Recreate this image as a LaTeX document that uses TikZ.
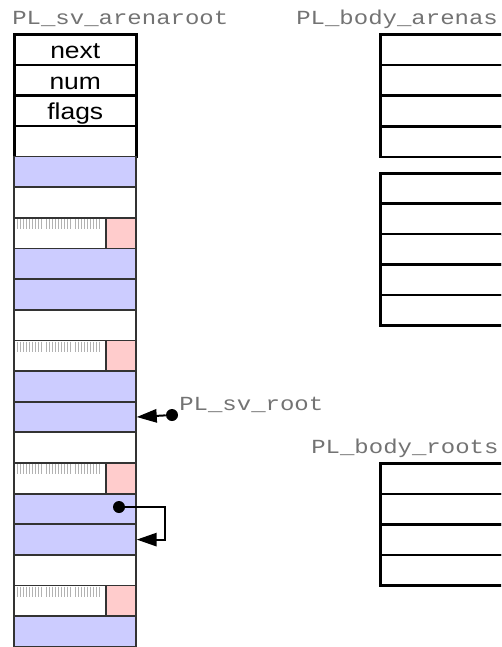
\documentclass[tikz,border=0pt]{standalone}
\usepackage{fontspec}
\usetikzlibrary{arrows.meta}
\definecolor{slotblue}{HTML}{CCCCFF}
\definecolor{slotpink}{HTML}{FFCCCC}
\newfontfamily\cellfont[FakeStretch=1.15]{Liberation Sans}
\newfontfamily\namefont[FakeStretch=1.2]{Liberation Mono}
\tikzset{
  headcell/.style={draw=black, line width=1.9pt, fill=white, inner sep=0pt,
    minimum width=91.5pt, minimum height=23pt, anchor=north west,
    font=\cellfont\fontsize{17.25}{20}\selectfont, text height=17pt, text depth=3.5pt},
  slotcell/.style={draw=black!80, line width=1.3pt, inner sep=0pt,
    minimum width=91.5pt, minimum height=23pt, anchor=north west},
  freecell/.style={slotcell, fill=white, minimum width=69pt},
  markcell/.style={slotcell, fill=slotpink, minimum width=22.5pt},
  bodycell/.style={draw=black, line width=1.9pt, fill=white, inner sep=0pt,
    minimum width=120pt, minimum height=23pt, anchor=north west},
  varname/.style={text=black!55, inner sep=0pt, anchor=base west,
    font=\namefont\fontsize{15}{18}\selectfont},
  tick/.style={draw=black!30, line width=0.6pt},
  dot/.style={circle, fill=black, inner sep=0pt, minimum size=9pt},
  ptr/.style={draw=black, line width=1.5pt, -{Triangle[length=15pt,width=10pt]}}
}
\begin{document}
\begin{tikzpicture}[x=0.75pt, y=-0.75pt]
  \useasboundingbox (0,0) rectangle (501,647);
  \clip (0,0) rectangle (501,647);

  % Names
  \node[varname] (arenaroot) at (12,24) {PL\_sv\_arenaroot};
  \node[varname] (arenas) at (296,24) {PL\_body\_arenas};
  \node[varname] (roots) at (311,453) {PL\_body\_roots};

  % Arena root header
  \node[headcell] (r1) at (13,33) {next};
  \node[headcell] (r2) at (13,63.65) {num};
  \node[headcell] (r3) at (13,94.3) {flags};
  \node[headcell] (r4) at (13,124.95) {};

  % Slots
  \foreach \k/\c [evaluate=\k as \t using 33+30.65*(\k-1)] in
    {5/slotblue, 6/white, 8/slotblue, 9/slotblue, 10/white, 12/slotblue,
     13/slotblue, 14/white, 16/slotblue, 17/slotblue, 18/white, 20/slotblue}
    \node[slotcell, fill=\c] (r\k) at (13,\t) {};

  % Freed slots
  \foreach \k [evaluate=\k as \t using 33+30.65*(\k-1)] in {7,11,15,19} {
    \node[freecell] (r\k) at (13,\t) {};
    \node[markcell] (m\k) at (105,\t) {};
    \foreach \g in {0,1,2}
      \foreach \i in {0,...,8}
        \draw[tick] ({17+\g*29+\i*3},{\t+2}) -- ++(0,10);
  }

  % Body arenas
  \foreach \k [evaluate=\k as \t using 33+30.75*(\k-1)] in {1,...,4}
    \node[bodycell] (a\k) at (379,\t) {};
  \foreach \k [evaluate=\k as \t using 172+30.4*(\k-1)] in {1,...,5}
    \node[bodycell] (b\k) at (379,\t) {};

  % Body roots
  \foreach \k [evaluate=\k as \t using 462+30.5*(\k-1)] in {1,...,4}
    \node[bodycell] (c\k) at (379,\t) {};

  % Pointers
  \node[dot] (rootdot) at (172,415) {};
  \node[varname] (rootname) at (179,410) {PL\_sv\_root};
  \draw[ptr] (rootdot) -- (r13.east);

  \node[dot] (nextdot) at (119,507) {};
  \coordinate (loopx) at (165,507);
  \draw[ptr] (nextdot) -- (loopx) |- (r17.east);
\end{tikzpicture}
\end{document}
